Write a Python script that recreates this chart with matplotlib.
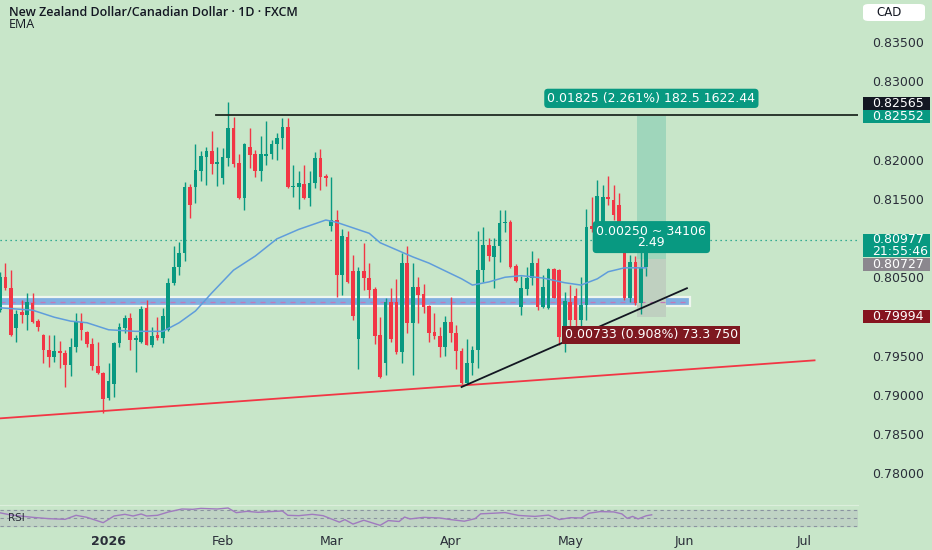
import numpy as np
import matplotlib
matplotlib.use("Agg")
import matplotlib.pyplot as plt
from matplotlib.patches import Rectangle, FancyBboxPatch
from matplotlib.transforms import blended_transform_factory

# daily candles, NZDCAD (bar index 0 = early Dec)
opens = [0.8008, 0.8050, 0.8036, 0.7985, 0.8006, 0.8002, 0.8017, 0.7994, 0.7976, 0.7957,
         0.7948, 0.7956, 0.7953, 0.7938, 0.7961, 0.7993, 0.7980, 0.7965, 0.7937, 0.7928,
         0.7896, 0.7914, 0.7966, 0.7985, 0.7998, 0.7970, 0.7967, 0.8011, 0.7964, 0.7976,
         0.7972, 0.7983, 0.8043, 0.8063, 0.8081, 0.8165, 0.8165, 0.8186, 0.8203, 0.8211,
         0.8194, 0.8177, 0.8202, 0.8240, 0.8196, 0.8151, 0.8216, 0.8207, 0.8186, 0.8205,
         0.8207, 0.8220, 0.8228, 0.8242, 0.8165, 0.8165, 0.8169, 0.8151, 0.8170, 0.8202,
         0.8179, 0.8115, 0.8123, 0.8053, 0.8101, 0.8058, 0.7971, 0.8058, 0.8049, 0.8035,
         0.7976, 0.7941, 0.8018, 0.8018, 0.7955, 0.8068, 0.7992, 0.8038, 0.8029, 0.8013,
         0.7980, 0.7975, 0.7961, 0.7993, 0.7979, 0.7956, 0.7915, 0.7941, 0.7957, 0.8059,
         0.8091, 0.8076, 0.8090, 0.8119, 0.8120, 0.8064, 0.8012, 0.8035, 0.8049, 0.8068,
         0.8012, 0.8011, 0.8061, 0.8059, 0.7971, 0.8018, 0.8026, 0.7995, 0.8015, 0.8115,
         0.8114, 0.8114, 0.8152, 0.8149, 0.8142, 0.8114, 0.8024, 0.8069, 0.8017, 0.8063]
highs = [0.8057, 0.8068, 0.8059, 0.8008, 0.8021, 0.8030, 0.8030, 0.7997, 0.7978, 0.7976,
         0.7976, 0.7969, 0.7957, 0.7972, 0.8004, 0.8004, 0.7981, 0.7972, 0.7967, 0.7929,
         0.7941, 0.7967, 0.7992, 0.8002, 0.8004, 0.7976, 0.8013, 0.8021, 0.7987, 0.7999,
         0.8011, 0.8049, 0.8090, 0.8095, 0.8171, 0.8169, 0.8220, 0.8211, 0.8216, 0.8237,
         0.8216, 0.8215, 0.8273, 0.8254, 0.8207, 0.8221, 0.8240, 0.8212, 0.8230, 0.8249,
         0.8225, 0.8234, 0.8253, 0.8253, 0.8193, 0.8186, 0.8193, 0.8186, 0.8210, 0.8214,
         0.8182, 0.8178, 0.8136, 0.8111, 0.8109, 0.8078, 0.8063, 0.8094, 0.8068, 0.8037,
         0.7999, 0.8024, 0.8036, 0.8048, 0.8081, 0.8090, 0.8068, 0.8050, 0.8041, 0.8014,
         0.8004, 0.7987, 0.8001, 0.8025, 0.7989, 0.7960, 0.7971, 0.7962, 0.8109, 0.8114,
         0.8100, 0.8100, 0.8136, 0.8136, 0.8123, 0.8067, 0.8052, 0.8063, 0.8083, 0.8075,
         0.8053, 0.8062, 0.8062, 0.8061, 0.8031, 0.8040, 0.8036, 0.8050, 0.8137, 0.8152,
         0.8174, 0.8168, 0.8179, 0.8168, 0.8157, 0.8116, 0.8078, 0.8077, 0.8086, 0.8101]
lows = [0.8006, 0.8034, 0.7975, 0.7967, 0.7992, 0.7983, 0.7992, 0.7981, 0.7941, 0.7936,
        0.7942, 0.7934, 0.7910, 0.7924, 0.7955, 0.7970, 0.7961, 0.7932, 0.7927, 0.7877,
        0.7894, 0.7897, 0.7961, 0.7979, 0.7957, 0.7929, 0.7966, 0.7963, 0.7961, 0.7970,
        0.7966, 0.7981, 0.8040, 0.8053, 0.8071, 0.8126, 0.8145, 0.8173, 0.8168, 0.8182,
        0.8166, 0.8169, 0.8192, 0.8191, 0.8150, 0.8136, 0.8189, 0.8178, 0.8173, 0.8193,
        0.8201, 0.8200, 0.8214, 0.8164, 0.8152, 0.8137, 0.8150, 0.8141, 0.8164, 0.8161,
        0.8166, 0.8109, 0.8025, 0.8027, 0.8043, 0.7995, 0.7933, 0.8034, 0.8024, 0.7965,
        0.7922, 0.7925, 0.7967, 0.7952, 0.7941, 0.7979, 0.7925, 0.7992, 0.8004, 0.7967,
        0.7971, 0.7948, 0.7950, 0.7967, 0.7933, 0.7914, 0.7914, 0.7925, 0.7934, 0.8044,
        0.8071, 0.8036, 0.8069, 0.8108, 0.8062, 0.8044, 0.8002, 0.8027, 0.8040, 0.8008,
        0.8011, 0.8010, 0.8023, 0.7963, 0.7955, 0.7987, 0.7983, 0.7985, 0.7995, 0.8108,
        0.8110, 0.8108, 0.8142, 0.8123, 0.8110, 0.8021, 0.8018, 0.8015, 0.8003, 0.8052]
closes = [0.8050, 0.8036, 0.7976, 0.8003, 0.8002, 0.8018, 0.7993, 0.7987, 0.7957, 0.7948,
          0.7956, 0.7953, 0.7938, 0.7961, 0.7993, 0.7983, 0.7965, 0.7937, 0.7928, 0.7895,
          0.7918, 0.7966, 0.7987, 0.7998, 0.7970, 0.7972, 0.8010, 0.7964, 0.7975, 0.7972,
          0.8001, 0.8043, 0.8063, 0.8081, 0.8165, 0.8142, 0.8187, 0.8205, 0.8211, 0.8194,
          0.8197, 0.8203, 0.8240, 0.8194, 0.8151, 0.8220, 0.8206, 0.8186, 0.8207, 0.8207,
          0.8220, 0.8228, 0.8242, 0.8165, 0.8166, 0.8170, 0.8151, 0.8170, 0.8202, 0.8178,
          0.8177, 0.8123, 0.8053, 0.8103, 0.8044, 0.8001, 0.8058, 0.8049, 0.8034, 0.7975,
          0.7923, 0.8018, 0.7971, 0.7955, 0.8068, 0.7992, 0.8038, 0.8027, 0.8012, 0.7979,
          0.7975, 0.7961, 0.7993, 0.7979, 0.7956, 0.7915, 0.7941, 0.7957, 0.8059, 0.8091,
          0.8077, 0.8090, 0.8119, 0.8120, 0.8063, 0.8045, 0.8036, 0.8049, 0.8068, 0.8012,
          0.8038, 0.8061, 0.8024, 0.7974, 0.8020, 0.7995, 0.7995, 0.8015, 0.8114, 0.8111,
          0.8154, 0.8152, 0.8150, 0.8129, 0.8115, 0.8024, 0.8069, 0.8017, 0.8063, 0.8098]

# EMA
ema_idx = [0, 6, 10, 13, 16, 20, 25, 30, 33, 36, 39, 43, 47, 51, 55, 60, 62, 65, 68, 70,
           73, 76, 79, 82, 85, 87, 90, 93, 96, 100, 104, 107, 110, 112, 115, 119]
ema_val = [0.8011, 0.8008, 0.7999, 0.7994, 0.7992, 0.7983, 0.7981, 0.7981, 0.7992, 0.8007,
           0.8030, 0.8059, 0.8077, 0.8099, 0.8111, 0.8123, 0.8120, 0.8113, 0.8106, 0.8094,
           0.8085, 0.8076, 0.8068, 0.8058, 0.8048, 0.8040, 0.8044, 0.8050, 0.8052, 0.8049,
           0.8043, 0.8040, 0.8048, 0.8057, 0.8062, 0.8062]

# RSI pane
rsi_idx = [0, 2, 6, 9, 12, 14, 16, 19, 21, 23, 24.5, 26, 27, 29, 31, 33.5, 35.5, 37, 40, 42,
           43.5, 45.5, 47.5, 49.5, 52, 53, 55, 57.5, 59.5, 62.5, 63.5, 65, 67, 70, 71.5, 73.5, 74.5, 75.5,
           78, 81, 83, 85.5, 87.5, 88.5, 91, 93, 95.5, 98.5, 101, 103, 105, 107, 108.5, 110.5,
           113, 114.5, 115.5, 116.5, 117.5, 119, 120]
rsi_val = [63, 57.5, 51.7, 48.3, 46.7, 56.7, 51.7, 38.3, 55, 59.2, 55, 60, 55, 56.7, 65, 72.5, 71.7, 74, 72.5, 75,
           63.3, 66.7, 64.2, 65.8, 67.5, 56.7, 55.8, 59.2, 55.8, 39.6, 46, 34.8, 44.4, 31.6, 43.6, 41.2, 52.4, 47.6,
           51.6, 50, 46, 42, 48.4, 60.4, 62, 63.6, 56.4, 54, 57.2, 46, 50.8, 50, 62, 66,
           65.2, 60.4, 49.2, 54, 47.6, 55.6, 58]

month_pos = [20, 41, 61, 83, 105, 126, 148]
month_lbl = ['2026', 'Feb', 'Mar', 'Apr', 'May', 'Jun', 'Jul']

# drawings
resistance = 0.82565
support_lo, support_hi = 0.8013, 0.8025
red_line = ([0, 150], [0.7870, 0.7944])
black_line = ([85, 126.5], [0.7910, 0.8036])
last_price = 0.80977
entry, target, stop = 0.80727, 0.82552, 0.79994
pos_x0, pos_x1 = 117.3, 122.6

BG = '#c8e6c9'
UP, DN = '#089981', '#f23645'
TXT = '#2a2e39'

fig = plt.figure(figsize=(9.32, 5.5), dpi=100, facecolor=BG)
ax = fig.add_axes([0, 45 / 550, 858 / 932, 505 / 550], facecolor=BG)
rax = fig.add_axes([0, 18 / 550, 858 / 932, 27 / 550], facecolor=BG)

ymin, ymax = 0.77595, 0.84036
ppx = (ymax - ymin) / 505  # price per pixel
ax.set_ylim(ymin, ymax)
ax.set_xlim(0, 158)

# support band
ax.add_patch(Rectangle((0, support_lo), 127.1, support_hi - support_lo, fc='#80afe0', ec='#eef6ee', lw=1.6, zorder=1))
ax.plot([0, 127.1], [(support_lo + support_hi) / 2] * 2, color='#c576b8', lw=0.9, ls=(0, (4, 4)), zorder=1.1)

# long position boxes
ax.add_patch(Rectangle((pos_x0, entry), pos_x1 - pos_x0, target - entry, fc='#9fd6bb', ec='none', zorder=1))
ax.add_patch(Rectangle((pos_x0, stop), pos_x1 - pos_x0, entry - stop, fc='#bfd0c0', ec='none', zorder=1))

# candles
x = np.arange(len(opens))
o = np.array(opens); h = np.array(highs); l = np.array(lows); c = np.array(closes)
cols = np.where(c >= o, UP, DN)
ax.vlines(x, l, h, colors=cols, lw=1, zorder=2)
body = np.maximum(np.abs(c - o), ppx * 1.2)
ax.bar(x, body, bottom=np.minimum(o, c), width=0.68, color=cols, zorder=2.1)

ax.plot(ema_idx, ema_val, color='#5f9ddb', lw=1.1, zorder=2.2)

ax.plot(red_line[0], red_line[1], color='#f23645', lw=1.3, zorder=2.3)
ax.plot(black_line[0], black_line[1], color='#131722', lw=1.3, zorder=2.3)
ax.plot([39.8, 158], [resistance, resistance], color='#1f2a22', lw=1.3, zorder=2.3)
ax.axhline(last_price, color=UP, lw=0.9, ls=(0, (1, 3)), zorder=1.5)

# position labels
pos_mid = (pos_x0 + pos_x1) / 2
ax.text(pos_mid, target + 18 * ppx, '0.01825 (2.261%) 182.5 1622.44', ha='center', va='center',
        fontsize=9, color='white', zorder=6,
        bbox=dict(boxstyle='round,pad=0.25,rounding_size=0.3', fc=UP, ec='none'))
ax.text(pos_mid, 0.81012, '0.00250 ~ 34106\n2.49', ha='center', va='center', fontsize=9,
        color='white', linespacing=0.85, zorder=6,
        bbox=dict(boxstyle='round,pad=0.3,rounding_size=0.3', fc=UP, ec='none'))
ax.text(pos_mid, stop - 18 * ppx, '0.00733 (0.908%) 73.3 750', ha='center', va='center',
        fontsize=9, color='white', zorder=6,
        bbox=dict(boxstyle='square,pad=0.2', fc='#7e1820', ec='none'))

# price scale (0.81 and 0.825 sit under the price tags)
ax.yaxis.tick_right()
ticks = np.arange(0.780, 0.8351, 0.005)
ax.set_yticks(ticks)
ax.set_yticklabels(['' if round(t, 3) in (0.81, 0.825) else f'{t:.5f}' for t in ticks])
ax.tick_params(axis='y', length=0, pad=10, labelsize=9, labelcolor=TXT)
ax.set_xticks([])
for s in ax.spines.values():
    s.set_visible(False)

tr = blended_transform_factory(ax.transAxes, ax.transData)


def tag(yc, text, fc, h=13):
    ax.add_patch(Rectangle((863 / 858, yc - h * ppx / 2), 67 / 858, h * ppx, transform=tr,
                           fc=fc, ec='none', clip_on=False, zorder=5))
    ax.text(872 / 858, yc, text, transform=tr, ha='left', va='center', fontsize=9,
            color='white', linespacing=0.9, zorder=6, clip_on=False)


tag(resistance + 12 * ppx, f'{resistance:.5f}', '#131722')
tag(target, f'{target:.5f}', UP)
tag(last_price - 5.5 * ppx, f'{last_price:.5f}\n21:55:46', UP, h=23)
tag(entry - 4.6 * ppx, f'{entry:.5f}', '#8b878e')
tag(stop, f'{stop:.5f}', '#86141f')

# RSI pane
rax.set_xlim(0, 158)
rax.set_ylim(15, 82.5)
rax.axhspan(30, 70, color='#bfd3c4', zorder=0)
for lv in (30, 50, 70):
    rax.axhline(lv, color='#8a93a0', lw=0.8, ls=(0, (3, 3)), zorder=1)
rax.plot(rsi_idx, rsi_val, color='#a07abf', lw=1, zorder=2)
rax.text(1.5, 50, 'RSI', fontsize=7.5, color=TXT, va='center')
rax.set_yticks([])
rax.set_xticks(month_pos)
rax.set_xticklabels(month_lbl)
rax.tick_params(axis='x', length=0, pad=2, labelsize=9, labelcolor=TXT)
rax.get_xticklabels()[0].set_fontweight('bold')
for s in rax.spines.values():
    s.set_visible(False)
rax.spines['top'].set_visible(True)
rax.spines['top'].set_color('#dcefdc')

# header
fig.text(9 / 932, 1 - 12 / 550, 'New Zealand Dollar/Canadian Dollar · 1D · FXCM', fontsize=9,
         fontweight='semibold', family='Open Sans', color='#131722', va='center')
fig.text(9 / 932, 1 - 25 / 550, 'EMA', fontsize=9, family='Open Sans', color='#131722', va='center')

fig.patches.append(FancyBboxPatch((863 / 932, 1 - 21 / 550), 62 / 932, 17 / 550,
                                  boxstyle='round,pad=0,rounding_size=0.006', transform=fig.transFigure,
                                  fc='white', ec='none'))
fig.text(876 / 932, 1 - 12.5 / 550, 'CAD', fontsize=8.5, color='#131722', va='center')

fig.savefig('out.png', dpi=100, facecolor=BG)
